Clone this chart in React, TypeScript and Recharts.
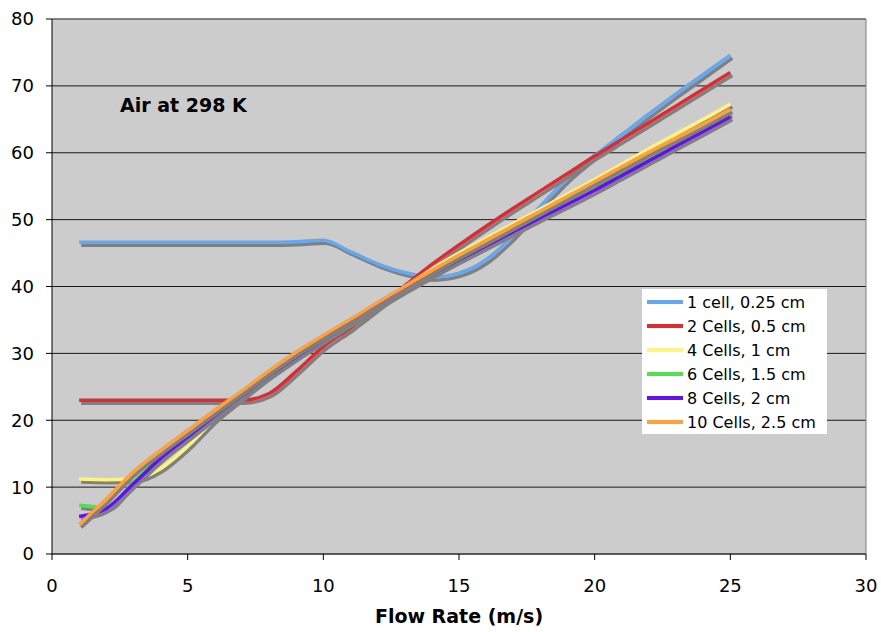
import React from 'react';
import { LineChart, Line, XAxis, YAxis, CartesianGrid, Legend, ReferenceLine } from 'recharts';

// flow rate (m/s) for every sample
const flowRates = [1, 2, 3, 4, 5, 6, 7, 8, 9, 10, 11, 12, 13, 14, 15, 16, 17, 18, 19, 20, 21, 22, 23, 24, 25];

const oneCell = [46.6, 46.6, 46.6, 46.6, 46.6, 46.6, 46.6, 46.6, 46.7, 46.9, 45.2, 43.4, 42.1, 41.4, 42.0, 44.0, 47.6, 52.0, 56.2, 59.6, 62.7, 65.8, 68.8, 71.7, 74.6];
const twoCells = [23.0, 23.0, 23.0, 23.0, 23.0, 23.0, 23.0, 24.0, 27.3, 31.0, 33.8, 36.9, 40.1, 43.3, 46.2, 49.0, 51.7, 54.3, 56.9, 59.5, 62.0, 64.5, 67.0, 69.5, 72.0];
const fourCells = [11.2, 11.1, 11.2, 12.8, 16.1, 20.2, 23.5, 26.7, 29.6, 32.2, 34.8, 37.4, 39.9, 42.6, 45.0, 47.2, 49.4, 51.6, 53.8, 56.0, 58.3, 60.6, 62.8, 65.0, 67.3];
const sixCells = [7.3, 7.0, 10.8, 14.5, 17.6, 20.8, 23.8, 26.8, 29.6, 32.2, 34.8, 37.3, 39.7, 42.1, 44.4, 46.6, 48.7, 50.8, 52.9, 55.0, 57.1, 59.3, 61.5, 63.7, 65.9];
const eightCells = [5.6, 6.8, 10.5, 14.3, 17.5, 20.7, 23.7, 26.7, 29.5, 32.1, 34.6, 37.1, 39.5, 41.8, 44.0, 46.1, 48.2, 50.3, 52.3, 54.4, 56.6, 58.8, 61.0, 63.2, 65.4];
const tenCells = [4.4, 8.2, 12.3, 15.5, 18.5, 21.5, 24.4, 27.4, 30.2, 32.7, 35.1, 37.6, 40.0, 42.4, 44.7, 46.9, 49.1, 51.3, 53.5, 55.7, 57.9, 60.1, 62.2, 64.3, 66.5];

const seriesNames = ['1 cell, 0.25 cm', '2 Cells, 0.5 cm', '4 Cells, 1 cm', '6 Cells, 1.5 cm', '8 Cells, 2 cm', '10 Cells, 2.5 cm'];
const seriesValues = [oneCell, twoCells, fourCells, sixCells, eightCells, tenCells];

const xTicks = [0, 5, 10, 15, 20, 25, 30];
const yTicks = [0, 10, 20, 30, 40, 50, 60, 70, 80];

const colors = ['#64a8f4', '#de2b33', '#fff380', '#52e052', '#6610f2', '#ffa03c'];
const font = '"DejaVu Sans", Verdana, sans-serif';

const data = flowRates.map((flow, i) => {
  const row: Record<string, number> = { flow };
  seriesValues.forEach((vals, s) => {
    row[`s${s}`] = vals[i];
  });
  return row;
});

const LegendBox = () => (
  <div
    style={{
      background: '#fff',
      width: 185,
      height: 145,
      boxSizing: 'border-box',
      padding: '1px 0 0 5px',
      fontFamily: font,
      fontSize: 16,
      color: '#000',
    }}
  >
    {seriesNames.map((name, i) => (
      <div key={name} style={{ display: 'flex', alignItems: 'center', height: 24 }}>
        <span style={{ display: 'inline-block', width: 36, height: 3.5, background: colors[i], marginRight: 4 }} />
        <span style={{ whiteSpace: 'nowrap' }}>{name}</span>
      </div>
    ))}
  </div>
);

export default function App() {
  return (
    <div style={{ position: 'relative', width: 881, height: 632, background: '#fff' }}>
      <style>{`
        body { margin: 0; }
        .shadowed .recharts-line-curve { filter: drop-shadow(2px 3px 0 #808080); }
      `}</style>
      <div className="shadowed">
        <LineChart width={881} height={632} data={data} margin={{ top: 19, right: 15, bottom: 0, left: 0 }}>
          <CartesianGrid vertical={false} fill="#cccccc" stroke="#1a1a1a" fillOpacity={1} />
          <XAxis
            dataKey="flow"
            type="number"
            domain={[0, 30]}
            ticks={xTicks}
            height={78}
            tickSize={6}
            tickMargin={19}
            axisLine={{ stroke: '#4d4d4d', strokeWidth: 1.5 }}
            tickLine={{ stroke: '#000' }}
            tick={{ fontSize: 18, fill: '#000', fontFamily: font }}
            label={{
              value: 'Flow Rate (m/s)',
              position: 'insideBottom',
              offset: 9,
              style: { fontSize: 19, fontWeight: 'bold', fill: '#000', fontFamily: font },
            }}
          />
          <YAxis
            type="number"
            domain={[0, 80]}
            ticks={yTicks}
            width={52}
            tickSize={6}
            tickMargin={12}
            axisLine={{ stroke: '#000' }}
            tickLine={{ stroke: '#000' }}
            tick={{ fontSize: 18, fill: '#000', fontFamily: font }}
          />
          <ReferenceLine y={80} stroke="#808080" />
          <ReferenceLine x={30} stroke="#808080" />
          {seriesNames.map((name, i) => (
            <Line
              key={name}
              dataKey={`s${i}`}
              name={name}
              type="monotone"
              stroke={colors[i]}
              strokeWidth={3.5}
              dot={false}
              activeDot={false}
              isAnimationActive={false}
            />
          ))}
          <Legend
            verticalAlign="middle"
            align="center"
            layout="horizontal"
            content={() => <LegendBox />}
            wrapperStyle={{ left: 642, top: 289, width: 185, height: 145 }}
          />
        </LineChart>
      </div>
      <div
        style={{
          position: 'absolute',
          left: 120,
          top: 96,
          fontFamily: font,
          fontSize: 19,
          fontWeight: 'bold',
          lineHeight: '19px',
          color: '#000',
          whiteSpace: 'nowrap',
        }}
      >
        Air at 298 K
      </div>
    </div>
  );
}
